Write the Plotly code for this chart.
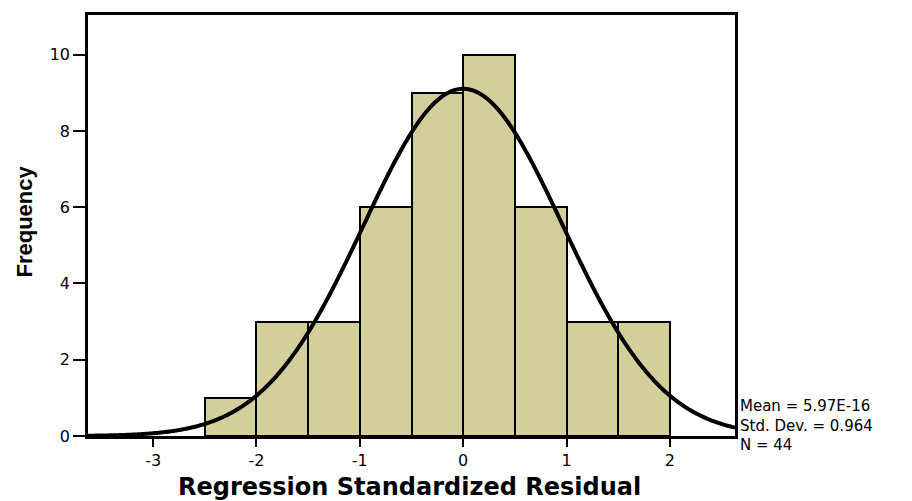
import numpy as np
import plotly.graph_objects as go

bin_left = [-2.5, -2.0, -1.5, -1.0, -0.5, 0.0, 0.5, 1.0, 1.5]
counts = [1, 3, 3, 6, 9, 10, 6, 3, 3]
bin_width = 0.5
mean = 5.97e-16
std = 0.964
n = 44
x_ticks = [-3, -2, -1, 0, 1, 2]
y_ticks = [0, 2, 4, 6, 8, 10]
stats_lines = ["Mean = 5.97E-16", "Std. Dev. = 0.964", "N = 44"]

x_range = [-3.63, 2.63]
y_range = [0, 11.04]

centers = [b + bin_width / 2 for b in bin_left]
xs = np.linspace(x_range[0], x_range[1], 600)
ys = n * bin_width / (std * np.sqrt(2 * np.pi)) * np.exp(-0.5 * ((xs - mean) / std) ** 2)

W, H = 904, 493
ML, MR, MT, MB = 80, 177, 4, 65
PW = W - ML - MR
PH = H - MT - MB

fig = go.Figure()
fig.add_trace(go.Bar(
    x=centers, y=counts, width=bin_width,
    marker=dict(color="#D3CF9A", line=dict(color="black", width=2)),
    showlegend=False, hoverinfo="x+y",
))
fig.add_trace(go.Scatter(
    x=xs, y=ys, mode="lines", line=dict(color="black", width=4, simplify=False),
    showlegend=False, hoverinfo="skip",
))

font_main = "DejaVu Sans, Verdana, sans-serif"
fig.update_layout(
    width=W, height=H,
    margin=dict(l=ML, r=MR, t=MT, b=MB),
    paper_bgcolor="white", plot_bgcolor="white",
    bargap=0,
    font=dict(family=font_main, color="black", size=16),
    xaxis=dict(
        range=x_range, tickvals=x_ticks, ticktext=[str(v) for v in x_ticks],
        ticks="outside", ticklen=8, tickwidth=2, tickcolor="black",
        showline=True, linecolor="black", linewidth=2.5, mirror=True,
        showgrid=False, zeroline=False, tickfont=dict(size=16),
    ),
    yaxis=dict(
        range=y_range, tickvals=y_ticks, ticktext=[str(v) for v in y_ticks],
        ticks="outside", ticklen=12, tickwidth=2, tickcolor="black",
        showline=True, linecolor="black", linewidth=2.5, mirror=True,
        showgrid=False, zeroline=False, tickfont=dict(size=16),
    ),
)

fig.add_annotation(
    text="<b>Regression Standardized Residual</b>",
    xref="paper", yref="paper", x=(401 - ML) / PW, y=(428 - 479) / PH,
    xanchor="center", yanchor="middle",
    showarrow=False, font=dict(size=24, family=font_main),
)
fig.add_annotation(
    text="<b>Frequency</b>",
    xref="paper", yref="paper", x=(17 - ML) / PW, y=(428 - 212) / PH,
    xanchor="center", yanchor="middle",
    showarrow=False, textangle=-90,
    font=dict(size=22, family="Liberation Sans, Arial, sans-serif"),
)
fig.add_annotation(
    text="<br>".join(stats_lines), xref="paper", yref="paper",
    x=(730 - ML) / PW, y=(428 - 417) / PH,
    xanchor="left", yanchor="middle", align="left", showarrow=False,
    font=dict(size=15, family=font_main),
)

fig.write_html("out.html")
